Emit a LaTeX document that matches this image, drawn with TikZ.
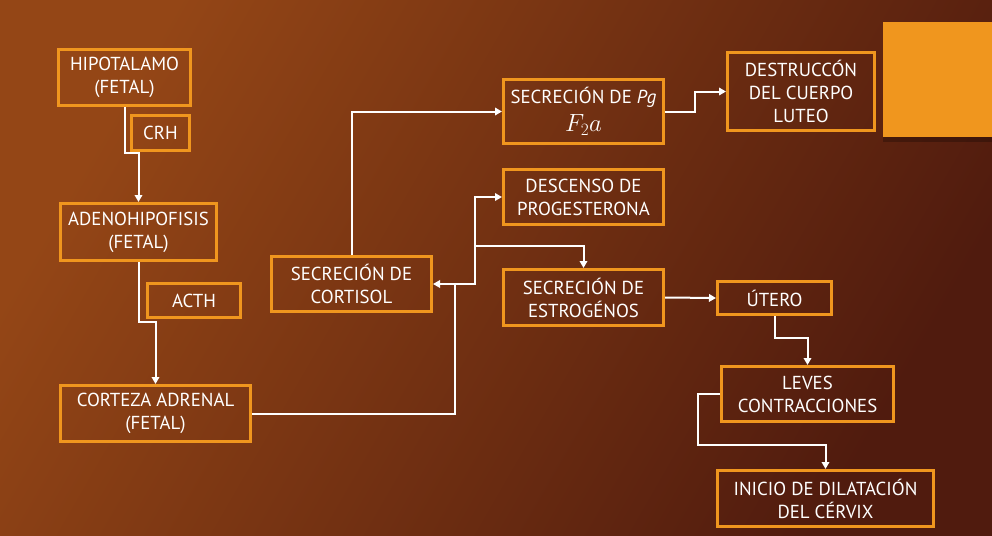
\documentclass[tikz,border=0pt]{standalone}
\usepackage{fontspec}
\setmainfont{PT Sans}
\usepackage{tikz}
\usetikzlibrary{shapes,positioning,arrows.meta}
\definecolor{naranja}{RGB}{240,150,30}
\definecolor{fondoA}{RGB}{148,70,22}
\definecolor{fondoB}{RGB}{80,27,14}
\tikzset{caja/.style={rectangle,draw=naranja,line width=3pt,inner sep=0pt,align=center,text=white,font=\fontsize{18.8}{23}\selectfont},
  flecha/.style={->,white,line width=2pt}}

\begin{document}
\begin{tikzpicture}[x=1pt,y=-1pt,>={Triangle[length=7pt,width=7.5pt]}]
    \useasboundingbox (0,0) rectangle (992,535);
    \shade[shading=axis,top color=fondoA,bottom color=fondoB,shading angle=60] (0,0) rectangle (992,535);
    \fill[black,opacity=0.25] (883,137) rectangle (992,142);
    \fill[naranja] (883,22) rectangle (992,137);

    \node[caja,minimum width=132,minimum height=56] (hipo) at (124.5,77.5) {HIPOTALAMO\\(FETAL)};
    \node[caja,minimum width=58,minimum height=35] (crh) at (160.5,133) {CRH};
    \node[caja,minimum width=156,minimum height=57] (adeno) at (138.5,232) {ADENOHIPOFISIS\\(FETAL)};
    \node[caja,minimum width=93,minimum height=34] (acth) at (194,300.5) {ACTH};
    \node[caja,minimum width=190,minimum height=56] (corteza) at (155.5,413.5) {CORTEZA ADRENAL\\(FETAL)};
    \node[caja,minimum width=160,minimum height=55] (cortisol) at (351.5,284) {SECRECIÓN DE\\CORTISOL};
    \node[caja,minimum width=160,minimum height=64] (pg) at (583.5,111.5) {SECRECIÓN DE \textit{Pg}\\[5pt]{\fontsize{26}{26}\selectfont$F_2a$}};
    \node[caja,minimum width=147,minimum height=78] (destr) at (801,91.5) {DESTRUCCÓN\\DEL CUERPO\\LUTEO};
    \node[caja,minimum width=160,minimum height=55] (descenso) at (583.5,197) {DESCENSO DE\\PROGESTERONA};
    \node[caja,minimum width=160,minimum height=56] (estro) at (583.5,297.5) {SECRECIÓN DE\\ESTROGÉNOS};
    \node[caja,minimum width=114,minimum height=33] (utero) at (774.5,298) {ÚTERO};
    \node[caja,minimum width=172,minimum height=55] (leves) at (807.5,394) {LEVES\\CONTRACCIONES};
    \node[caja,minimum width=216,minimum height=56] (inicio) at (825.5,498.5) {INICIO DE DILATACIÓN\\DEL CÉRVIX};

    \coordinate (jc) at (455,284);
    \coordinate (je) at (475,246);

    \draw [flecha] (hipo.south) -- ++(0,46) -| (adeno.north);
    \draw [flecha] (adeno.south) -- ++(0,60) -| (corteza.north);
    \draw [flecha] (corteza.east) -| (jc) -- (cortisol.east);
    \draw [flecha] (jc) -- ++(20,0) |- (descenso.west);
    \draw [flecha] (je) -| (estro.north);
    \draw [flecha] (cortisol.north) |- (pg.west);
    \draw [flecha] (pg.east) -- ++(30,0) |- (destr.west);
    \draw [flecha] (estro.east) -- (utero.west);
    \draw [flecha] (utero.south) -- ++(0,22) -| (leves.north);
    \draw [flecha] (leves.west) -- ++(-22,0) -- ++(0,51) -| (inicio.north);
\end{tikzpicture}
\end{document}
